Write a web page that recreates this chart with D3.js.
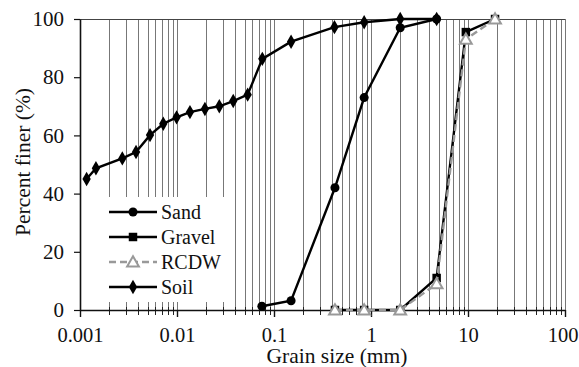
<!DOCTYPE html>
<html>
<head>
<meta charset="utf-8">
<script src="https://cdn.jsdelivr.net/npm/d3@7"></script>
<style>
body { margin: 0; background: #fff; }
text { font-family: "Liberation Serif", "Times New Roman", serif; fill: #111; }
</style>
</head>
<body>
<script>
// sieve sizes (mm) and percent finer
var sandSize = [0.075, 0.15, 0.425, 0.85, 2, 4.75];
var sandPct = [1.3, 3.2, 42, 73, 97, 100];
var gravelSize = [0.425, 0.85, 2, 4.75, 9.5, 19];
var gravelPct = [0, 0, 0, 11, 95.5, 100];
var rcdwSize = [0.425, 0.85, 2, 4.75, 9.5, 19];
var rcdwPct = [0, 0, 0, 9, 93, 100];
var soilSize = [0.00117, 0.00146, 0.00273, 0.00378, 0.00527, 0.00722, 0.0099, 0.0136,
                0.0194, 0.0273, 0.038, 0.0535, 0.0758, 0.15, 0.42, 0.85, 2, 4.75];
var soilPct = [45, 48.7, 52.1, 54.3, 60.1, 64, 66.2, 68, 69.1, 70, 71.8, 74, 86.3, 92.2, 97.2, 98.9, 100, 100];
var xTicks = [0.001, 0.01, 0.1, 1, 10, 100];
var yTicks = [0, 20, 40, 60, 80, 100];

var w = 579, h = 367;
var padLeft = 80, padRight = 565, padTop = 19, padBottom = 310;

var svg = d3.select("body").append("svg")
            .attr("width", w)
            .attr("height", h);

var x = d3.scaleLog().domain([0.001, 100]).range([padLeft, padRight]);
var y = d3.scaleLinear().domain([0, 100]).range([padBottom, padTop]);

// snap a line to the pixel grid so it stays sharp
function px(v) { return Math.round(v) + 0.5; }

// all log grid positions (1..9 in each decade)
var gridVals = [];
for (var e = -3; e < 2; e++) {
  for (var k = 1; k < 10; k++) gridVals.push(+(k * Math.pow(10, e)).toPrecision(3));
}
gridVals.push(100);

svg.append("g").selectAll("line")
   .data(gridVals)
   .enter().append("line")
   .attr("x1", function(d){ return px(x(d)); })
   .attr("x2", function(d){ return px(x(d)); })
   .attr("y1", padTop)
   .attr("y2", padBottom)
   .attr("stroke", "#777")
   .attr("stroke-width", 1);

// top border
svg.append("line")
   .attr("x1", padLeft).attr("x2", padRight)
   .attr("y1", px(padTop)).attr("y2", px(padTop))
   .attr("stroke", "#444").attr("stroke-width", 1);

// legend backdrop hides the grid behind it
svg.append("rect")
   .attr("x", 100).attr("y", 197)
   .attr("width", 130).attr("height", 105)
   .attr("fill", "#fff");

// minor ticks below the x axis
svg.append("g").selectAll("line")
   .data(gridVals.filter(function(d){ return xTicks.indexOf(d) < 0; }))
   .enter().append("line")
   .attr("x1", function(d){ return px(x(d)); })
   .attr("x2", function(d){ return px(x(d)); })
   .attr("y1", padBottom - 3)
   .attr("y2", padBottom + 5)
   .attr("stroke", "#222");

var xAxis = d3.axisBottom(x)
              .tickValues(xTicks)
              .tickFormat(function(d){ return String(d); })
              .tickSize(7)
              .tickSizeOuter(0);
var yAxis = d3.axisLeft(y)
              .tickValues(yTicks)
              .tickSize(6)
              .tickSizeOuter(0);

var gx = svg.append("g")
   .attr("transform", "translate(0," + padBottom + ")")
   .call(xAxis);
gx.select(".domain").attr("stroke", "#111").attr("stroke-width", 1.6);
gx.selectAll(".tick line").attr("stroke", "#111").attr("stroke-width", 1.4);
gx.selectAll("text").attr("font-size", "20.5px").attr("y", 32).attr("dy", 0).attr("fill", "#111")
  .attr("font-family", "Liberation Serif");
// last label sits against the right edge of the picture
gx.selectAll("text").filter(function(d){ return d === 100; })
  .attr("text-anchor", "end").attr("x", w - 1 - padRight);

var gy = svg.append("g")
   .attr("transform", "translate(" + padLeft + ",0)")
   .call(yAxis);
gy.select(".domain").attr("stroke", "#111").attr("stroke-width", 1.6);
gy.selectAll(".tick line").attr("stroke", "#111").attr("stroke-width", 1.2);
gy.selectAll("text").attr("font-size", "21px").attr("x", -16).attr("fill", "#111")
  .attr("font-family", "Liberation Serif");

// axis titles
svg.append("text")
   .attr("x", 337)
   .attr("y", 363)
   .attr("text-anchor", "middle")
   .attr("font-size", "21.5px")
   .text("Grain size (mm)");
svg.append("text")
   .attr("transform", "translate(30,162) rotate(-90)")
   .attr("text-anchor", "middle")
   .attr("font-size", "21.5px")
   .text("Percent finer (%)");

var line = d3.line()
             .x(function(d){ return x(d[0]); })
             .y(function(d){ return y(d[1]); });

var series = [
  { name: "Sand", sizes: sandSize, pct: sandPct, color: "#000", dash: null, marker: "circle" },
  { name: "Gravel", sizes: gravelSize, pct: gravelPct, color: "#000", dash: null, marker: "square" },
  { name: "RCDW", sizes: rcdwSize, pct: rcdwPct, color: "#999", dash: "7,4", marker: "triangle" },
  { name: "Soil", sizes: soilSize, pct: soilPct, color: "#000", dash: null, marker: "diamond" }
];

var symbols = {
  circle: d3.symbol().type(d3.symbolCircle).size(64),
  square: d3.symbol().type(d3.symbolSquare).size(72),
  triangle: d3.symbol().type(d3.symbolTriangle).size(60),
  diamond: d3.symbol().type(d3.symbolDiamond).size(60)
};

function drawMarker(g, s, mx, my) {
  var p = g.append("path")
           .attr("d", symbols[s.marker]())
           .attr("transform", "translate(" + mx + "," + (s.marker === "triangle" ? my + 1 : my) + ")");
  if (s.marker === "triangle") {
    p.attr("fill", "#fff").attr("stroke", s.color).attr("stroke-width", 2);
  } else {
    p.attr("fill", "#000");
  }
}

series.forEach(function(s) {
  var pts = s.sizes.map(function(v, i){ return [v, s.pct[i]]; });
  var g = svg.append("g");
  g.append("path")
   .datum(pts)
   .attr("d", line)
   .attr("fill", "none")
   .attr("stroke", s.color)
   .attr("stroke-width", 2.4)
   .attr("stroke-dasharray", s.dash);
  pts.forEach(function(p){ drawMarker(g, s, x(p[0]), y(p[1])); });
});

// legend
var legY = [212, 237, 262, 287];
series.forEach(function(s, i) {
  var g = svg.append("g");
  g.append("line")
   .attr("x1", 109).attr("x2", 157)
   .attr("y1", legY[i]).attr("y2", legY[i])
   .attr("stroke", s.color)
   .attr("stroke-width", 2.4)
   .attr("stroke-dasharray", s.dash);
  drawMarker(g, s, 133, legY[i]);
  g.append("text")
   .attr("x", 161)
   .attr("y", legY[i])
   .attr("dy", "0.35em")
   .attr("font-size", "20px")
   .text(s.name);
});
</script>
</body>
</html>
